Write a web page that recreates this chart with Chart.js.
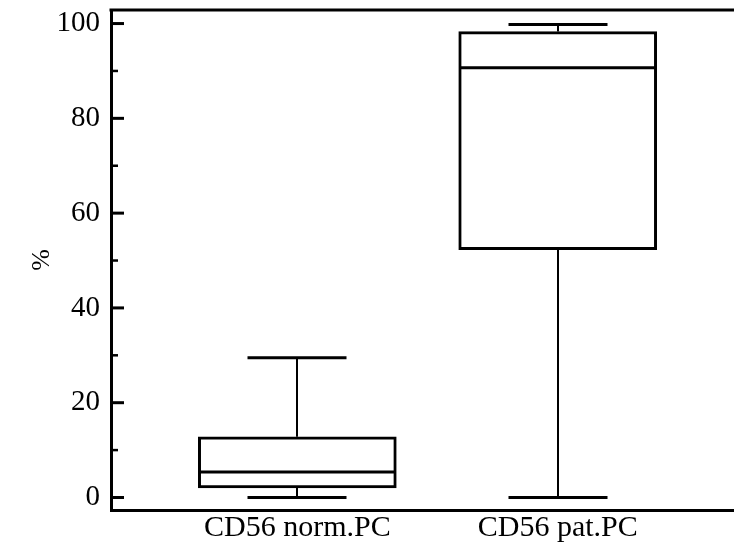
<!DOCTYPE html>
<html>
<head>
<meta charset="utf-8">
<title>CD56 boxplot</title>
<script src="https://cdn.jsdelivr.net/npm/chart.js@4.4.1/dist/chart.umd.min.js"></script>
<style>
    html, body { margin: 0; padding: 0; background: #fff; }
</style>
</head>
<body>
<canvas id="graficoBox" width="734" height="551"></canvas>
<script>
// dados (em %)
const categorias = ['CD56 norm.PC', 'CD56 pat.PC'];
const minimos = [0, 0];
const quartil1 = [2.0, 52.3];
const medianas = [5.4, 90.7];
const quartil3 = [12.8, 98.3];
const maximos = [29.5, 99.8];
const rotuloEixoY = '%';

const fonte = '"Liberation Serif", "Times New Roman", Times, serif';

// bigodes, medianas e marcas internas do eixo Y
const boxExtras = {
    id: 'boxExtras',
    afterDatasetsDraw(chart) {
        const ctx = chart.ctx;
        const yScale = chart.scales.y;
        const meta = chart.getDatasetMeta(0);
        ctx.save();
        ctx.strokeStyle = '#000';
        ctx.lineCap = 'butt';
        meta.data.forEach(function (bar, i) {
            const px = Math.round(bar.x);
            const meia = bar.width / 2;
            const capa = meia / 2;
            const yMin = yScale.getPixelForValue(minimos[i]);
            const yQ1 = yScale.getPixelForValue(quartil1[i]);
            const yMed = yScale.getPixelForValue(medianas[i]);
            const yQ3 = yScale.getPixelForValue(quartil3[i]);
            const yMax = yScale.getPixelForValue(maximos[i]);

            // linhas verticais
            ctx.lineWidth = 2;
            ctx.beginPath();
            ctx.moveTo(px, yQ3); ctx.lineTo(px, yMax);
            ctx.moveTo(px, yQ1); ctx.lineTo(px, yMin);
            ctx.stroke();

            // capas e mediana
            ctx.lineWidth = 3;
            ctx.beginPath();
            ctx.moveTo(px - capa, yMax); ctx.lineTo(px + capa, yMax);
            ctx.moveTo(px - capa, yMin); ctx.lineTo(px + capa, yMin);
            ctx.moveTo(px - meia + 2, yMed); ctx.lineTo(px + meia - 2, yMed);
            ctx.stroke();
        });
        ctx.restore();
    },
    afterDraw(chart) {
        const ctx = chart.ctx;
        const area = chart.chartArea;
        const yScale = chart.scales.y;
        ctx.save();
        ctx.strokeStyle = '#000';
        // borda superior
        ctx.lineWidth = 3;
        ctx.beginPath();
        ctx.moveTo(area.left - 1.5, area.top);
        ctx.lineTo(area.right, area.top);
        ctx.stroke();
        // marcas para dentro
        yScale.ticks.forEach(function (t) {
            const y = yScale.getPixelForValue(t.value);
            const maior = t.value % 20 === 0;
            ctx.lineWidth = maior ? 3 : 2.5;
            ctx.beginPath();
            ctx.moveTo(area.left, y);
            ctx.lineTo(area.left + (maior ? 13 : 7), y);
            ctx.stroke();
        });
        ctx.restore();
    }
};

const ctxBox = document.getElementById('graficoBox');

new Chart(ctxBox, {
    type: 'bar',
    data: {
        datasets: [{
            data: categorias.map(function (c, i) {
                return { x: i, y: [quartil1[i], quartil3[i]] };
            }),
            backgroundColor: '#fff',
            borderColor: '#000',
            borderWidth: 3,
            borderSkipped: false,
            barThickness: 198
        }]
    },
    options: {
        responsive: false,
        animation: false,
        devicePixelRatio: 1,
        layout: { padding: { top: 10, left: 0, right: 0, bottom: 0 } },
        plugins: {
            legend: { display: false },
            tooltip: { enabled: false }
        },
        scales: {
            x: {
                type: 'linear',
                offset: false,
                min: -0.7155,
                max: 1.677,
                grid: { display: false, drawTicks: false, offset: false },
                border: { display: true, color: '#000', width: 3 },
                afterBuildTicks: function (scale) {
                    scale.ticks = categorias.map(function (c, i) { return { value: i }; });
                },
                afterFit: function (scale) {
                    scale.height = 41;
                    scale.paddingLeft = 0;
                    scale.paddingRight = 0;
                },
                ticks: {
                    autoSkip: false,
                    maxRotation: 0,
                    padding: 0,
                    color: '#000',
                    font: { family: fonte, size: 30 },
                    callback: function (v) { return categorias[v]; }
                }
            },
            y: {
                min: -2.64,
                max: 102.86,
                grid: { display: false, drawTicks: false },
                border: { display: true, color: '#000', width: 3 },
                afterFit: function (scale) {
                    scale.width = 111;
                    scale.paddingTop = 0;
                    scale.paddingBottom = 0;
                },
                title: {
                    display: true,
                    text: rotuloEixoY,
                    color: '#000',
                    font: { family: fonte, size: 26 },
                    padding: { top: 27, bottom: 0 }
                },
                ticks: {
                    stepSize: 10,
                    includeBounds: false,
                    padding: 11,
                    color: '#000',
                    font: { family: fonte, size: 29 },
                    callback: function (v) { return v % 20 === 0 ? v : ''; }
                }
            }
        }
    },
    plugins: [boxExtras]
});
</script>
</body>
</html>
